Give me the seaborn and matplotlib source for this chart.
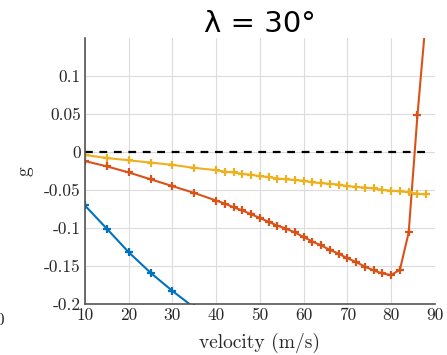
import numpy as np
import pandas as pd
import matplotlib
matplotlib.use("Agg")
import matplotlib.pyplot as plt
import seaborn as sns

# velocidade (m/s)
v_blue = [10, 15, 20, 25, 30, 35]
g_blue = [-0.0705, -0.101, -0.132, -0.159, -0.183, -0.205]

v_long = [10, 15, 20, 25, 30, 35, 40, 42, 44, 46, 48, 50, 52, 54, 56, 58,
          60, 62, 64, 66, 68, 70, 72, 74, 76, 78, 80, 82, 84, 86, 88]
g_orange = [-0.012, -0.019, -0.027, -0.036, -0.045, -0.054, -0.064, -0.068,
            -0.073, -0.077, -0.082, -0.087, -0.092, -0.097, -0.101, -0.106,
            -0.112, -0.118, -0.123, -0.129, -0.134, -0.140, -0.145, -0.151,
            -0.156, -0.160, -0.162, -0.155, -0.106, 0.048, 0.18]
g_yellow = [-0.004, -0.008, -0.011, -0.014, -0.017, -0.021, -0.024, -0.026,
            -0.027, -0.029, -0.030, -0.032, -0.033, -0.035, -0.036, -0.037,
            -0.038, -0.040, -0.041, -0.042, -0.043, -0.045, -0.046, -0.047,
            -0.048, -0.050, -0.051, -0.052, -0.053, -0.055, -0.056]

x_ticks = [10, 20, 30, 40, 50, 60, 70, 80, 90]
y_ticks = [-0.2, -0.15, -0.1, -0.05, 0, 0.05, 0.1]
y_tick_labels = ["-0.2", "-0.15", "-0.1", "-0.05", "0", "0.05", "0.1"]

sns.set_style("white")
plt.rcParams["font.family"] = "serif"
plt.rcParams["font.serif"] = ["cmr10", "DejaVu Serif"]
plt.rcParams["axes.unicode_minus"] = False

fig = plt.figure(figsize=(4.47, 3.55), dpi=100)
ax = fig.add_axes([0.190, 0.144, 0.783, 0.749])

cores = {"blue": "#0072BD", "orange": "#D95319", "yellow": "#EDB120"}

for xs, ys, c in [(v_blue, g_blue, cores["blue"]),
                  (v_long, g_orange, cores["orange"]),
                  (v_long, g_yellow, cores["yellow"])]:
    sns.lineplot(x=xs, y=ys, ax=ax, color=c, marker="+", markersize=6,
                 markeredgewidth=1.6, markeredgecolor=c, linewidth=1.5)
ax.plot([10, 88], [0, 0], color="black", linestyle=(0, (3.5, 3)), linewidth=1.6)

ax.set_xlim(10, 90)
ax.set_ylim(-0.2, 0.15)
ax.set_xticks(x_ticks)
ax.set_xticklabels([str(t) for t in x_ticks])
ax.set_yticks(y_ticks)
ax.set_yticklabels(y_tick_labels)
ax.tick_params(direction="in", length=4, width=1.2, colors="#262626",
               labelsize=12.5, pad=3)
ax.grid(True, color="#dcdcdc", linewidth=0.8)
for s in ["top", "right"]:
    ax.spines[s].set_visible(False)
for s in ["left", "bottom"]:
    ax.spines[s].set_color("#555555")
    ax.spines[s].set_linewidth(1.2)

ax.set_xlabel("velocity (m/s)", fontsize=14, labelpad=7, color="#262626")
ax.set_ylabel("g", fontsize=14, labelpad=8, color="#262626")
ax.set_title("λ = 30°", fontsize=21, family="DejaVu Sans", pad=4,
             color="black")

# pedaço do rótulo do gráfico vizinho
fig.text(0.0, 0.098, "0", fontsize=12.5, ha="center", va="center",
         color="#262626")

fig.savefig("out.png", dpi=100)
